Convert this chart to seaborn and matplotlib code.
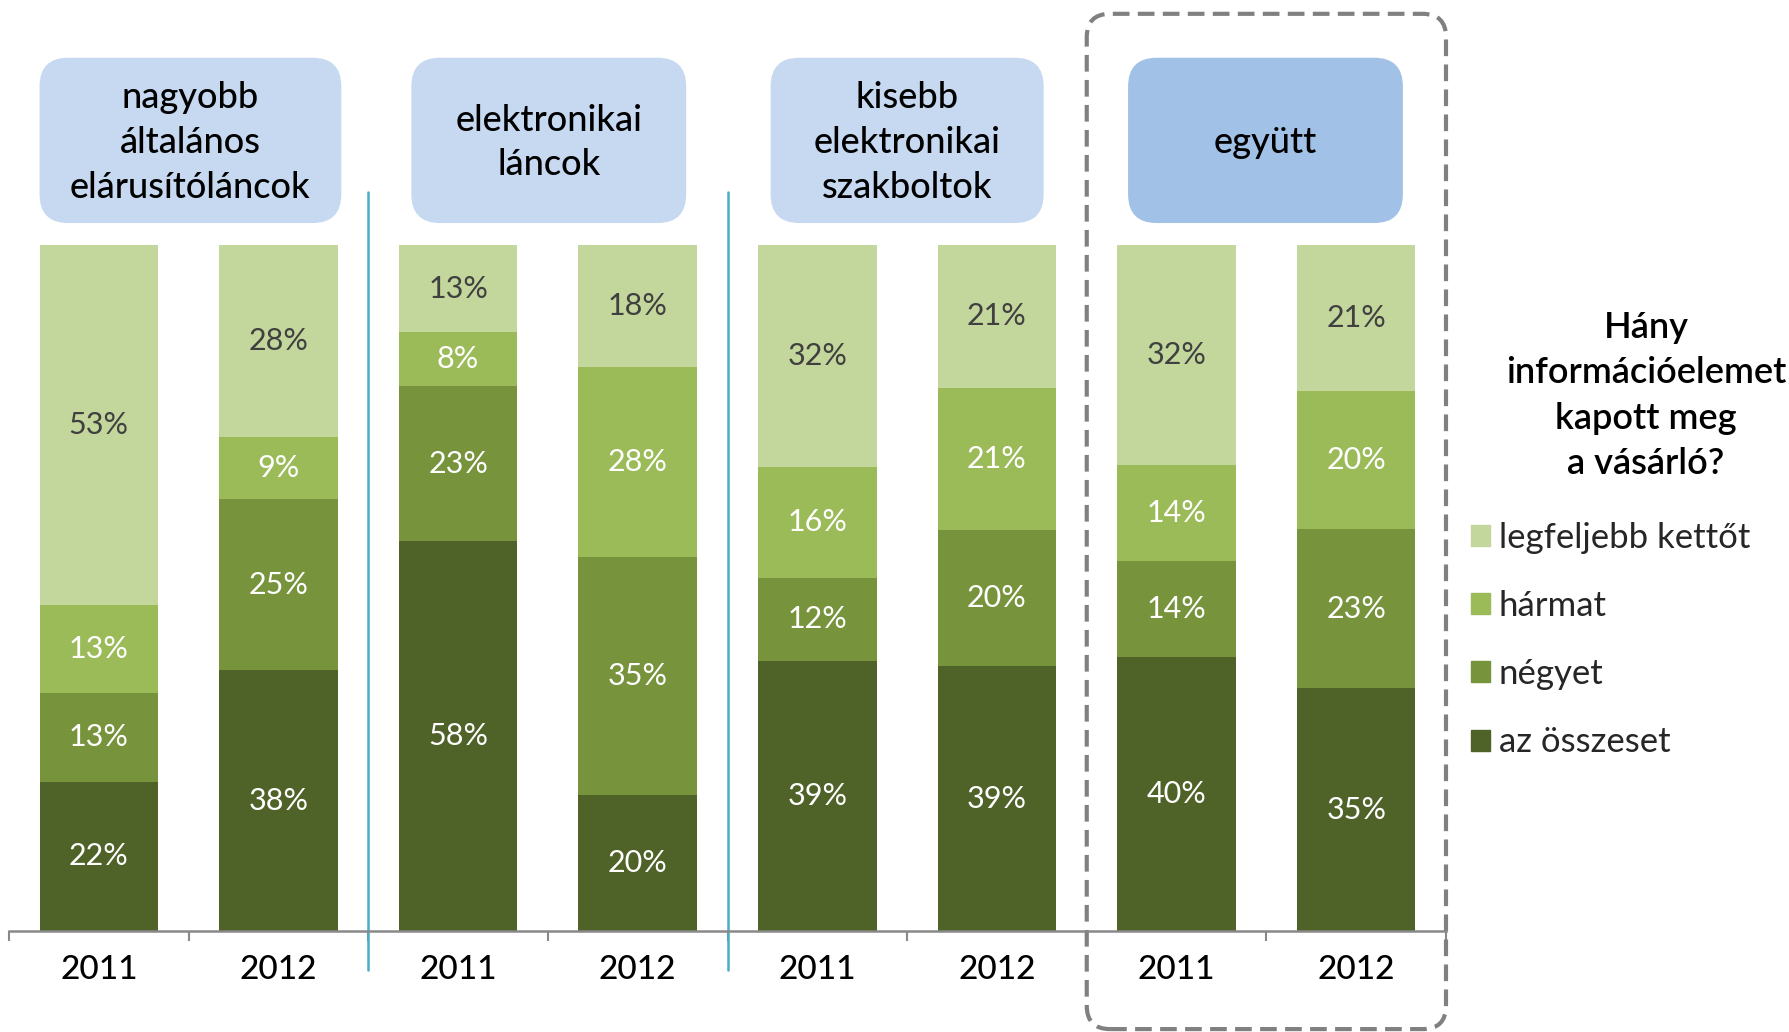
import numpy as np
import pandas as pd
import matplotlib
matplotlib.use('Agg')
import matplotlib.pyplot as plt
import seaborn as sns
from matplotlib.patches import FancyBboxPatch, Patch

# data (percent shares, bottom -> top)
groups = ['nagyobb\náltalános\nelárusítóláncok', 'elektronikai\nláncok',
          'kisebb\nelektronikai\nszakboltok', 'együtt']
years = ['2011', '2012']
series = ['az összeset', 'négyet', 'hármat', 'legfeljebb kettőt']
osszeset = [22, 38, 58, 20, 39, 39, 40, 35]
negyet = [13, 25, 23, 35, 12, 20, 14, 23]
harmat = [13, 9, 8, 28, 16, 21, 14, 20]
legfeljebb = [53, 28, 13, 18, 32, 21, 32, 21]
legend_title = 'Hány\ninformációelemet\nkapott meg\na vásárló?'

colors = ['#4f6228', '#77933c', '#9bbb59', '#c3d69b']
label_colors = ['white', 'white', 'white', '#404040']

sns.set_theme(style='white')
plt.rcParams['font.family'] = ['Lato', 'DejaVu Sans']

bar_keys = [f'{g.split(chr(10))[0]} {y}' for g in groups for y in years]
vals = np.array([osszeset, negyet, harmat, legfeljebb], dtype=float)
shares = vals / vals.sum(axis=0) * 100
cum = np.cumsum(shares, axis=0)

W, H = 1789, 1032
fig = plt.figure(figsize=(W / 100, H / 100), dpi=100)
ax_l, ax_b, ax_w, ax_h = 9, 101, 1437, 686
ax = fig.add_axes([ax_l / W, ax_b / H, ax_w / W, ax_h / H])

# stacked bars: draw cumulative totals from top layer down
for i in range(3, -1, -1):
    df = pd.DataFrame({'bar': bar_keys, 'val': cum[i]})
    sns.barplot(data=df, x='bar', y='val', order=bar_keys, color=colors[i],
                width=0.66, saturation=1, errorbar=None, linewidth=0,
                edgecolor='none', ax=ax)

for i in range(4):
    bottoms = cum[i] - shares[i]
    for j in range(len(bar_keys)):
        ax.text(j, bottoms[j] + shares[i][j] / 2, f'{int(vals[i][j])}%',
                ha='center', va='center', fontsize=22, color=label_colors[i])

ax.set_xlim(-0.5, 7.5)
ax.set_ylim(0, 100)
ax.set_xlabel('')
ax.set_ylabel('')
ax.set_yticks([])
ax.set_xticks(range(8))
ax.set_xticklabels(years * 4, fontsize=24, color='black', fontweight='medium')
ax.set_xticks(np.arange(-0.5, 8, 1), minor=True)
ax.tick_params(axis='x', which='major', length=0, pad=17)
ax.tick_params(axis='x', which='minor', length=7, width=1.5, color='#898989', bottom=True)
for s in ['top', 'left', 'right']:
    ax.spines[s].set_visible(False)
ax.spines['bottom'].set_color('#898989')
ax.spines['bottom'].set_linewidth(1.8)

# aspect between x and y data units (pixels)
asp = (ax_w / 8) / (ax_h / 100)

# group separators
for xs in [1.5, 3.5]:
    ax.plot([xs, xs], [-5.7, 107.7], color='#4bacc6', lw=1.8, clip_on=False)

# group header boxes
box_x = [(-0.33, 1.35), (1.74, 3.27), (3.74, 5.26), (5.73, 7.26)]
box_fc = ['#c6d9f1', '#c6d9f1', '#c6d9f1', '#a2c1e7']
for k, g in enumerate(groups):
    x0, x1 = box_x[k]
    y0, y1 = 103.2, 127.3
    ax.add_patch(FancyBboxPatch((x0, y0), x1 - x0, y1 - y0,
                                boxstyle='round,pad=0,rounding_size=0.16',
                                mutation_aspect=asp, fc=box_fc[k], ec='none',
                                clip_on=False))
    ax.text((x0 + x1) / 2, (y0 + y1) / 2 - 0.3, g, ha='center', va='center',
            fontsize=26, linespacing=1.43, color='black', fontweight='medium')

# dashed frame round "együtt"
ax.add_patch(FancyBboxPatch((5.5, -14.3), 2.0, 148.0,
                            boxstyle='round,pad=0,rounding_size=0.13',
                            mutation_aspect=asp, fill=False, ec='#808080',
                            lw=3, ls=(0, (4, 2)), clip_on=False))

# legend
fig.text(1646 / W, 1 - 311 / H, legend_title, ha='center', va='top',
         fontsize=26, linespacing=1.46, color='black', fontweight='semibold')
handles = [Patch(color=colors[i], label=series[i]) for i in range(3, -1, -1)]
ax.legend(handles=handles, loc='upper left',
          bbox_to_anchor=(1471 / W, 1 - 522 / H), bbox_transform=fig.transFigure,
          frameon=False, fontsize=25, handlelength=0.55, handleheight=0.55,
          handletextpad=0.25, labelspacing=1.04, borderpad=0, borderaxespad=0)

fig.savefig('out.png', dpi=100)
